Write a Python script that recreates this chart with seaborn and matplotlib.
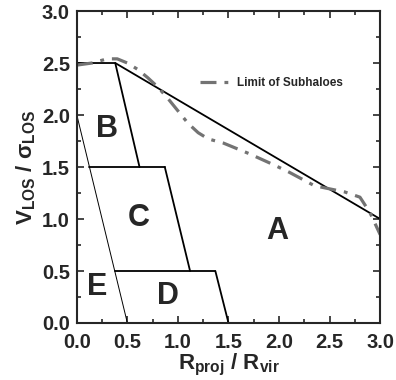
import numpy as np
import pandas as pd
import seaborn as sns
import matplotlib
matplotlib.use('Agg')
import matplotlib.pyplot as plt

# limit of subhaloes (dash-dot curve)
limit_r = [0.0, 0.15, 0.3, 0.4, 0.5, 0.6, 0.7, 0.8, 0.9, 1.0, 1.1, 1.2, 1.3,
           1.45, 1.7, 1.95, 2.1, 2.35, 2.5, 2.65, 2.8, 2.9, 3.0]
limit_v = [2.48, 2.50, 2.54, 2.54, 2.50, 2.44, 2.36, 2.27, 2.16, 2.04, 1.92,
           1.83, 1.77, 1.73, 1.63, 1.52, 1.45, 1.32, 1.29, 1.26, 1.21, 1.06, 0.85]

# region boundaries (solid lines)
top_r = [0.0, 0.38, 3.0]
top_v = [2.5, 2.5, 1.0]
b_edge_r = [0.38, 0.62]
b_edge_v = [2.5, 1.5]
c_top_r = [0.125, 0.87]
c_top_v = [1.5, 1.5]
c_edge_r = [0.87, 1.12]
c_edge_v = [1.5, 0.5]
d_top_r = [0.375, 1.37]
d_top_v = [0.5, 0.5]
d_edge_r = [1.37, 1.5]
d_edge_v = [0.5, 0.0]
e_edge_r = [0.0, 0.5]
e_edge_v = [2.0, 0.0]

region_names = ['A', 'B', 'C', 'D', 'E']
region_r = [1.98, 0.30, 0.61, 0.90, 0.20]
region_v = [0.88, 1.87, 1.01, 0.26, 0.35]

tick_vals = [0.0, 0.5, 1.0, 1.5, 2.0, 2.5, 3.0]
tick_labels = ['0.0', '0.5', '1.0', '1.5', '2.0', '2.5', '3.0']

sns.set_style('ticks')
plt.rcParams['font.family'] = ['Liberation Sans', 'DejaVu Sans']
plt.rcParams['font.weight'] = 'bold'
plt.rcParams['mathtext.fontset'] = 'custom'
plt.rcParams['mathtext.rm'] = 'Liberation Sans:bold'
plt.rcParams['mathtext.bf'] = 'Liberation Sans:bold'
plt.rcParams['mathtext.it'] = 'Liberation Sans:bold'
plt.rcParams['mathtext.default'] = 'bf'

fig, ax = plt.subplots(figsize=(3.96, 3.80), dpi=100)
fig.subplots_adjust(left=0.194, right=0.96, bottom=0.15, top=0.971)

def seg(r, v, lw=1.3):
    sns.lineplot(x=r, y=v, ax=ax, color='black', linewidth=lw, sort=False,
                 estimator=None)

seg(top_r, top_v)
seg(b_edge_r, b_edge_v)
seg(c_top_r, c_top_v)
seg(c_edge_r, c_edge_v)
seg(d_top_r, d_top_v)
seg(d_edge_r, d_edge_v)
seg(e_edge_r, e_edge_v, lw=0.7)

sns.lineplot(x=limit_r, y=limit_v, ax=ax, color='#737373', linewidth=2.3,
             linestyle=(0, (5, 2.5, 1.2, 2.5)), sort=False, estimator=None,
             label='Limit of Subhaloes')

for name, r, v in zip(region_names, region_r, region_v):
    ax.text(r, v, name, fontsize=22, fontweight='bold', ha='center', va='center')

ax.set_xlim(0, 3)
ax.set_ylim(0, 3)
ax.set_xticks(tick_vals)
ax.set_yticks(tick_vals)
ax.set_xticks(np.arange(0, 3.01, 0.25), minor=True)
ax.set_yticks(np.arange(0, 3.01, 0.25), minor=True)
ax.set_xticklabels(tick_labels, fontweight='bold')
ax.set_yticklabels(tick_labels, fontweight='bold')
ax.tick_params(which='both', direction='in', top=True, right=True, width=1.2)
ax.tick_params(which='major', length=5, labelsize=14.5, pad=7)
ax.tick_params(which='minor', length=3)
ax.tick_params(axis='y', which='major', pad=5)
for sp in ax.spines.values():
    sp.set_visible(True)
    sp.set_linewidth(1.5)

ax.set_xlabel(r'$R_{proj}$ / $R_{vir}$', fontsize=16, fontweight='bold',
              labelpad=0)
ax.set_ylabel(r'$V_{LOS}$ / $\sigma_{LOS}$', fontsize=16, fontweight='bold',
              labelpad=3)

leg = ax.legend(loc='center left', bbox_to_anchor=(0.37, 0.77), frameon=False,
                handlelength=2.6, handletextpad=0.6,
                prop={'weight': 'bold', 'size': 8.5})

fig.savefig('out.png', dpi=100)
